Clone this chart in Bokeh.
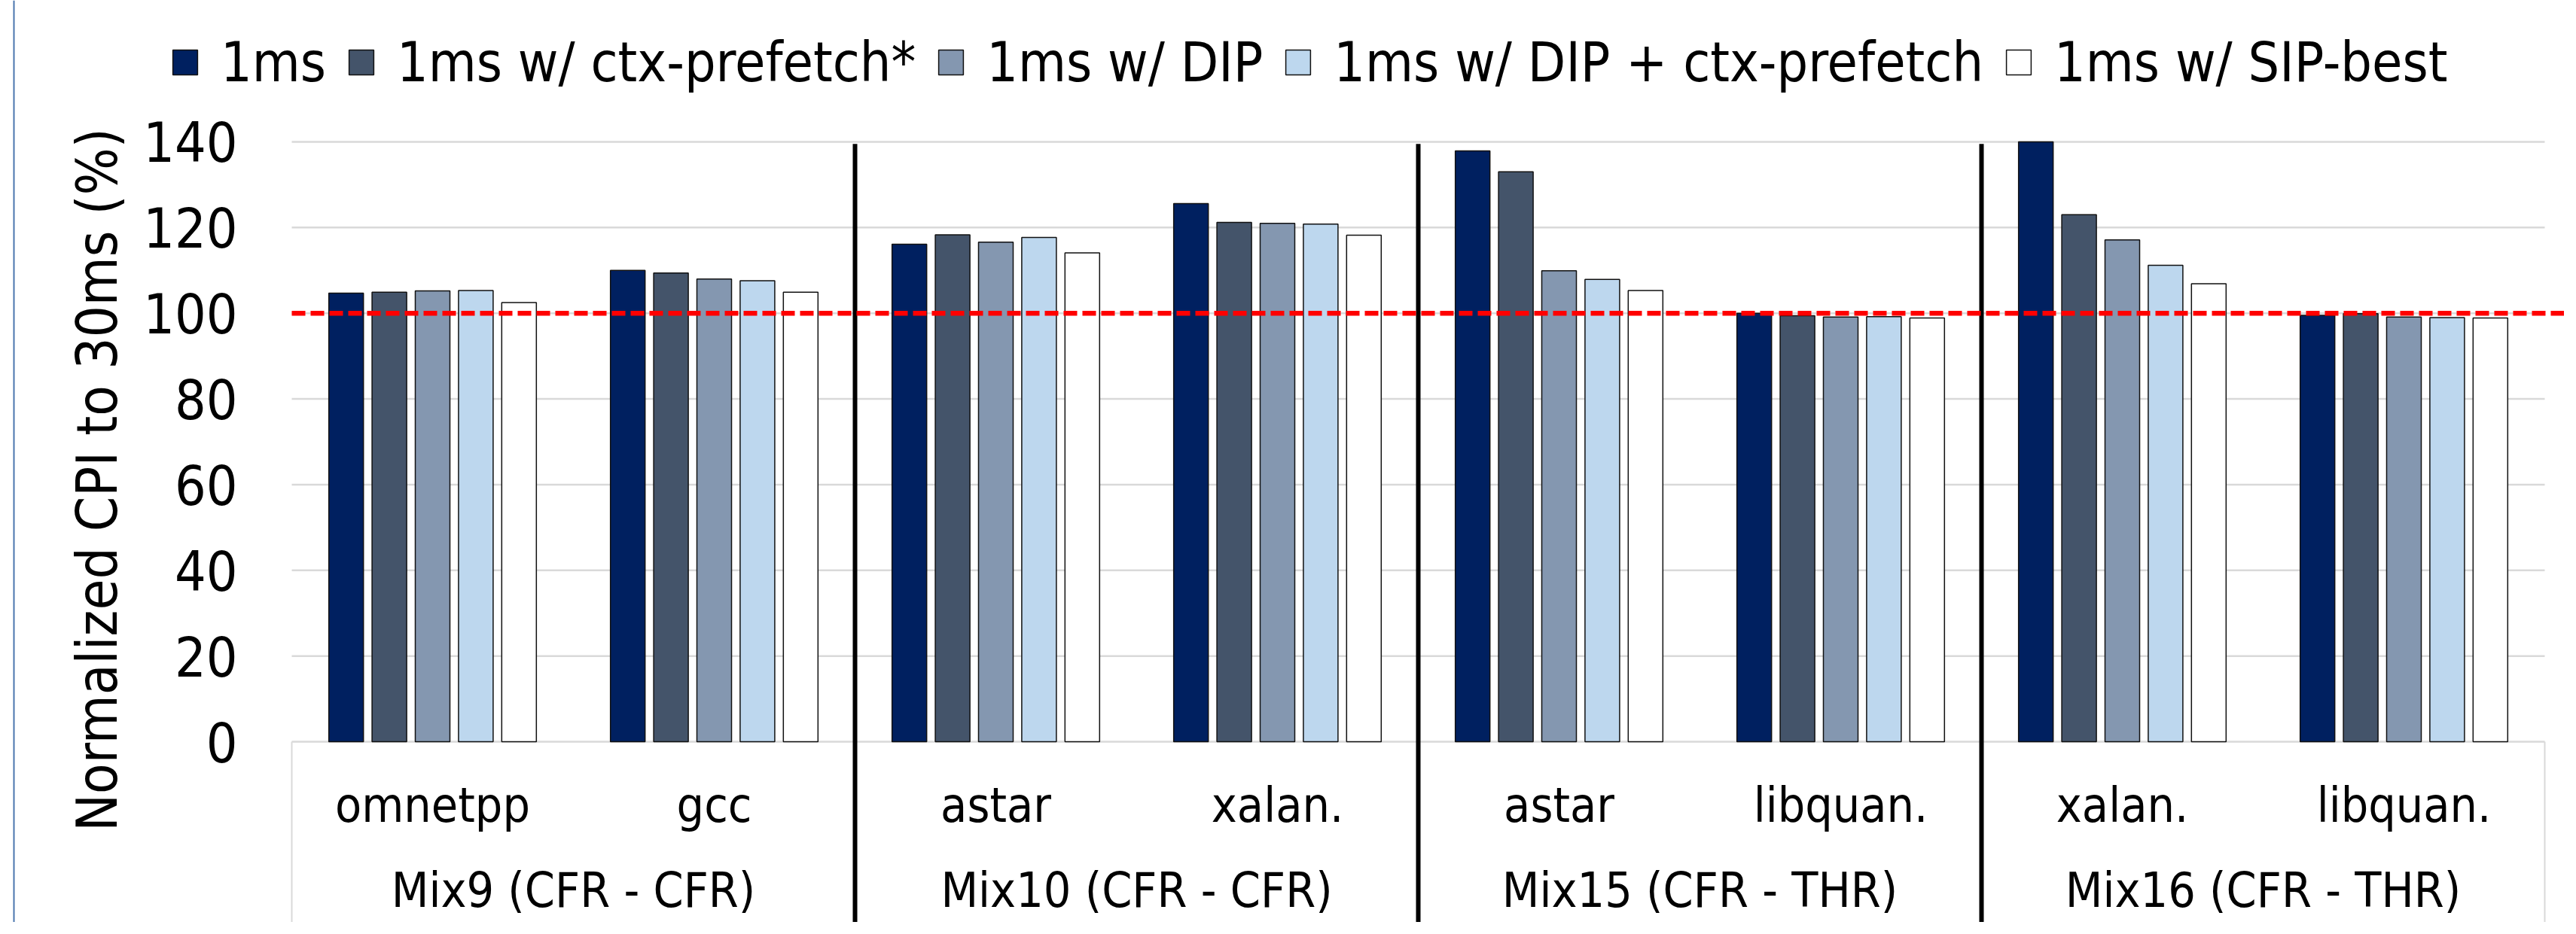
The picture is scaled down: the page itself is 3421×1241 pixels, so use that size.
from bokeh.plotting import figure
from bokeh.models import (ColumnDataSource, FixedTicker, LinearAxis, Legend,
                          LegendItem, Range1d, Span)
from bokeh.embed import file_html
from bokeh.resources import INLINE

# ---------------- data ----------------
benchmarks = ["omnetpp", "gcc", "astar", "xalan.", "astar", "libquan.", "xalan.", "libquan."]
mixes = ["Mix9 (CFR - CFR)", "Mix10 (CFR - CFR)", "Mix15 (CFR - THR)", "Mix16 (CFR - THR)"]
series_names = ["1ms", "1ms w/ ctx-prefetch*", "1ms w/ DIP",
                "1ms w/ DIP + ctx-prefetch", "1ms w/ SIP-best"]
v_1ms = [104.7, 110.0, 116.1, 125.6, 137.9, 100.0, 140.0, 99.5]
v_ctx = [104.9, 109.4, 118.3, 121.2, 133.0, 99.4, 123.0, 99.9]
v_dip = [105.2, 108.0, 116.6, 121.0, 109.9, 99.1, 117.1, 99.1]
v_dip_ctx = [105.3, 107.6, 117.7, 120.8, 107.9, 99.2, 111.2, 99.0]
v_sip = [102.5, 104.9, 114.1, 118.2, 105.3, 98.9, 106.9, 98.9]
y_ticks = [0, 20, 40, 60, 80, 100, 120, 140]
reference_level = 100
y_label = "Normalized CPI to 30ms (%)"

series_values = [v_1ms, v_ctx, v_dip, v_dip_ctx, v_sip]
colors = ["#002060", "#44546A", "#8497B0", "#BDD7EE", "#FFFFFF"]

# ---------------- geometry ----------------
W, H = 3405, 1225
PAGE = 8
PX_CAT = 374.0          # pixels per category
PX_Y = 5.693            # pixels per y unit
PLOT_LEFT = 395 - PAGE  # figure px of x = 0
Y0 = 993 - PAGE         # figure px of y = 0

x_start = -PLOT_LEFT / PX_CAT
x_end = x_start + W / PX_CAT
y_end = Y0 / PX_Y
y_start = y_end - H / PX_Y

FONT = "DejaVu Sans Condensed"
n_cat = len(benchmarks)
y_max = max(y_ticks)

p = figure(width=W, height=H, output_backend="svg", toolbar_location=None,
           x_range=Range1d(x_start, x_end), y_range=Range1d(y_start, y_end),
           x_axis_location=None, y_axis_location=None,
           min_border=0, min_border_left=0, min_border_right=0,
           min_border_top=0, min_border_bottom=0)
p.grid.visible = False
p.outline_line_color = None
p.background_fill_color = "white"
p.border_fill_color = "white"

# gridlines (drawn from the tick list)
p.segment(x0=[0] * len(y_ticks), y0=y_ticks, x1=[n_cat] * len(y_ticks), y1=y_ticks,
          line_color="#D9D9D9", line_width=2.5)
# box round the category labels
p.segment(x0=[0, n_cat], y0=[0, 0], x1=[0, n_cat], y1=[y_start, y_start],
          line_color="#D9D9D9", line_width=2)

# bars
centers = [i + 0.5 for i in range(n_cat)]
step = 0.1535
bar_w = 0.123
renderers = []
for j, (vals, col) in enumerate(zip(series_values, colors)):
    off = (j - (len(series_values) - 1) / 2) * step
    src = ColumnDataSource(dict(x=[c + off for c in centers], top=vals))
    r = p.vbar(x="x", top="top", bottom=0, width=bar_w, source=src,
               fill_color=col, line_color="#111111", line_width=1.5)
    renderers.append(r)

# group separators
n_per_group = n_cat // len(mixes)
sep_x = [g * n_per_group for g in range(1, len(mixes))]
p.segment(x0=sep_x, y0=[y_max - 0.5] * len(sep_x), x1=sep_x, y1=[y_start] * len(sep_x),
          line_color="black", line_width=6)

# red dashed reference line
p.segment(x0=[0], y0=[reference_level], x1=[x_end], y1=[reference_level],
          line_color="#FF0000", line_width=6.5, line_dash="18 7")

# left border of the chart area
p.add_layout(Span(location=x_start + 18 / PX_CAT, dimension="height",
                  line_color="#4A76AE", line_width=2))

# y axis
yax = LinearAxis(fixed_location=0, ticker=FixedTicker(ticks=y_ticks),
                 bounds=(-17.8, y_max),
                 axis_label=y_label,
                 axis_line_color=None, major_tick_line_color=None,
                 minor_tick_line_color=None, major_tick_in=0, major_tick_out=0,
                 major_label_standoff=72,
                 major_label_text_font=FONT, major_label_text_font_size="73px",
                 major_label_text_color="black",
                 axis_label_text_font=FONT, axis_label_text_font_size="74px",
                 axis_label_text_font_style="normal", axis_label_text_color="black",
                 axis_label_standoff=15)
p.add_layout(yax, "left")

# benchmark labels
group_centers = [g * n_per_group + n_per_group / 2 for g in range(len(mixes))]
ax1 = LinearAxis(fixed_location=0, ticker=FixedTicker(ticks=centers),
                 major_label_overrides={c: b for c, b in zip(centers, benchmarks)},
                 axis_line_color=None, major_tick_line_color=None,
                 minor_tick_line_color=None, major_tick_in=0, major_tick_out=0,
                 major_label_standoff=47,
                 major_label_text_font=FONT, major_label_text_font_size="64px",
                 major_label_text_color="black")
p.add_layout(ax1, "below")
ax2 = LinearAxis(fixed_location=0, ticker=FixedTicker(ticks=group_centers),
                 major_label_overrides={c: m for c, m in zip(group_centers, mixes)},
                 axis_line_color=None, major_tick_line_color=None,
                 minor_tick_line_color=None, major_tick_in=0, major_tick_out=0,
                 major_label_standoff=160,
                 major_label_text_font=FONT, major_label_text_font_size="64px",
                 major_label_text_color="black")
p.add_layout(ax2, "below")

# legend
items = [LegendItem(label=n, renderers=[r]) for n, r in zip(series_names, renderers)]
legend = Legend(items=items, orientation="horizontal", location=(225, 1100),
                label_text_font=FONT, label_text_font_size="73px",
                label_text_color="black",
                glyph_width=41, glyph_height=41, label_standoff=27, spacing=26,
                padding=0, margin=0, border_line_color=None,
                background_fill_alpha=0)
p.add_layout(legend)

open("out.html", "w").write(file_html(p, INLINE))
